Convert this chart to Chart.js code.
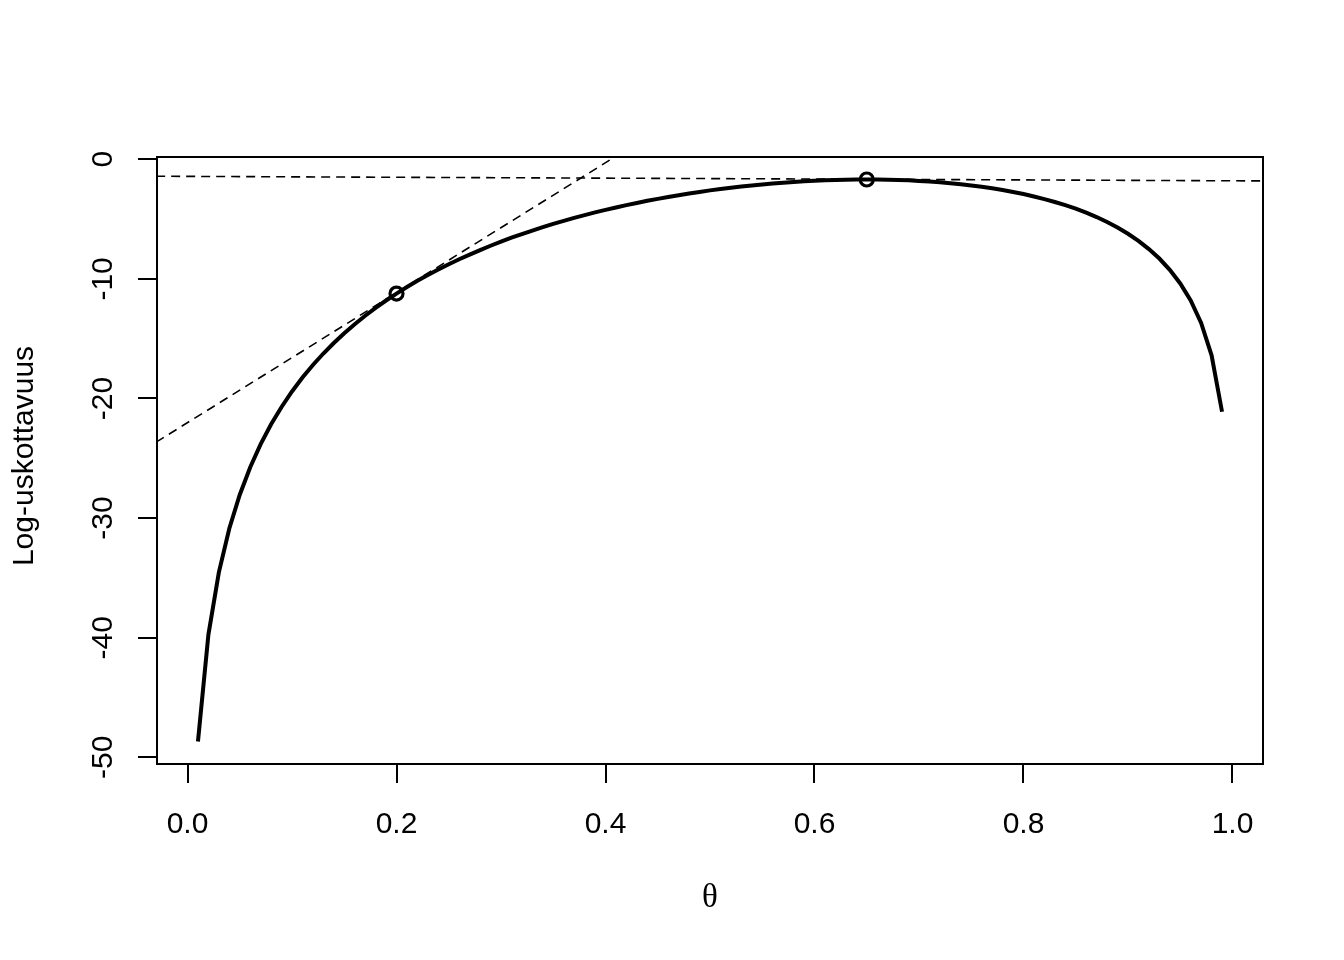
<!DOCTYPE html>
<html>
<head>
<meta charset="utf-8">
<script src="https://cdn.jsdelivr.net/npm/chart.js@4/dist/chart.umd.min.js"></script>
<style>
  html, body { margin: 0; padding: 0; background: #fff; }
  #wrap { width: 1344px; height: 960px; }
</style>
</head>
<body>
<div id="wrap"><canvas id="plot" width="1344" height="960"></canvas></div>
<script>
// theta grid and log-likelihood
const theta = [
  0.01, 0.02, 0.03, 0.04, 0.05, 0.06, 0.07, 0.08, 0.09, 0.10,
  0.11, 0.12, 0.13, 0.14, 0.15, 0.16, 0.17, 0.18, 0.19, 0.20,
  0.21, 0.22, 0.23, 0.24, 0.25, 0.26, 0.27, 0.28, 0.29, 0.30,
  0.31, 0.32, 0.33, 0.34, 0.35, 0.36, 0.37, 0.38, 0.39, 0.40,
  0.41, 0.42, 0.43, 0.44, 0.45, 0.46, 0.47, 0.48, 0.49, 0.50,
  0.51, 0.52, 0.53, 0.54, 0.55, 0.56, 0.57, 0.58, 0.59, 0.60,
  0.61, 0.62, 0.63, 0.64, 0.65, 0.66, 0.67, 0.68, 0.69, 0.70,
  0.71, 0.72, 0.73, 0.74, 0.75, 0.76, 0.77, 0.78, 0.79, 0.80,
  0.81, 0.82, 0.83, 0.84, 0.85, 0.86, 0.87, 0.88, 0.89, 0.90,
  0.91, 0.92, 0.93, 0.94, 0.95, 0.96, 0.97, 0.98, 0.99
];
const logLik = [
  -48.68, -39.74, -34.54, -30.87, -28.05, -25.75, -23.82, -22.16, -20.71, -19.41,
  -18.25, -17.20, -16.24, -15.36, -14.54, -13.79, -13.08, -12.42, -11.81, -11.23,
  -10.68, -10.16, -9.68, -9.22, -8.78, -8.36, -7.97, -7.59, -7.23, -6.89,
  -6.56, -6.25, -5.96, -5.67, -5.40, -5.15, -4.90, -4.67, -4.44, -4.23,
  -4.03, -3.83, -3.65, -3.47, -3.31, -3.15, -3.00, -2.86, -2.73, -2.60,
  -2.49, -2.38, -2.28, -2.19, -2.10, -2.03, -1.96, -1.90, -1.84, -1.80,
  -1.76, -1.73, -1.71, -1.70, -1.69, -1.70, -1.71, -1.73, -1.76, -1.81,
  -1.86, -1.92, -2.00, -2.09, -2.19, -2.30, -2.43, -2.57, -2.73, -2.91,
  -3.11, -3.33, -3.57, -3.84, -4.13, -4.47, -4.83, -5.25, -5.71, -6.23,
  -6.82, -7.51, -8.30, -9.24, -10.38, -11.80, -13.68, -16.39, -21.11
];

// marked points
const pointTheta = [0.2, 0.65];
const pointLogLik = [-11.23, -1.69];

// dashed lines (tangent at 0.2, level line near the maximum)
const tangentTheta = [-0.03, 0.42];
const tangentLogLik = [-23.65, 0.8];
const levelTheta = [-0.03, 1.03];
const levelLogLik = [-1.42, -1.81];

// axes
const xTicks = [0, 0.2, 0.4, 0.6, 0.8, 1.0];
const yTicks = [0, -10, -20, -30, -40, -50];
const xTitle = "θ";
const yTitle = "Log-uskottavuus";

const toXY = (xs, ys) => xs.map((x, i) => ({ x: x, y: ys[i] }));

/** ================================
 *  R-tyylinen laatikko, akselit ja tekstit
 =================================*/
const rAxes = {
    id: "rAxes",
    afterDraw(chart) {
        const { ctx, chartArea: a, scales: { x, y } } = chart;
        const tick = 19;
        ctx.save();
        ctx.strokeStyle = "#000";
        ctx.fillStyle = "#000";
        ctx.lineWidth = 2;

        // box
        ctx.strokeRect(a.left, a.top, a.right - a.left, a.bottom - a.top);

        // x axis
        ctx.beginPath();
        ctx.moveTo(x.getPixelForValue(xTicks[0]), a.bottom);
        ctx.lineTo(x.getPixelForValue(xTicks[xTicks.length - 1]), a.bottom);
        xTicks.forEach(v => {
            const px = Math.round(x.getPixelForValue(v));
            ctx.moveTo(px, a.bottom);
            ctx.lineTo(px, a.bottom + tick);
        });
        // y axis
        ctx.moveTo(a.left, y.getPixelForValue(yTicks[0]));
        ctx.lineTo(a.left, y.getPixelForValue(yTicks[yTicks.length - 1]));
        yTicks.forEach(v => {
            const py = Math.round(y.getPixelForValue(v));
            ctx.moveTo(a.left, py);
            ctx.lineTo(a.left - tick, py);
        });
        ctx.stroke();

        ctx.font = "30px 'Liberation Sans', Arial, sans-serif";
        ctx.textAlign = "center";
        ctx.textBaseline = "alphabetic";
        xTicks.forEach(v => {
            ctx.fillText(v.toFixed(1), x.getPixelForValue(v), 833);
        });
        yTicks.forEach(v => {
            ctx.save();
            ctx.translate(112, y.getPixelForValue(v));
            ctx.rotate(-Math.PI / 2);
            ctx.fillText(String(v), 0, 0);
            ctx.restore();
        });

        // titles
        ctx.save();
        ctx.translate(33, 456);
        ctx.rotate(-Math.PI / 2);
        ctx.fillText(yTitle, 0, 0);
        ctx.restore();

        ctx.font = "33px 'Liberation Serif', 'Times New Roman', serif";
        ctx.textBaseline = "middle";
        ctx.fillText(xTitle, (a.left + a.right) / 2, 898);
        ctx.restore();
    }
};

new Chart(document.getElementById("plot"), {
    type: "line",
    data: {
        datasets: [
            {
                data: toXY(tangentTheta, tangentLogLik),
                borderColor: "#000", borderWidth: 1.6, borderDash: [9, 6],
                pointRadius: 0, fill: false, order: 1
            },
            {
                data: toXY(levelTheta, levelLogLik),
                borderColor: "#000", borderWidth: 1.6, borderDash: [9, 6],
                pointRadius: 0, fill: false, order: 1
            },
            {
                data: toXY(pointTheta, pointLogLik),
                showLine: false,
                pointRadius: 6.5, pointBorderWidth: 3.2,
                pointBorderColor: "#000", pointBackgroundColor: "rgba(0,0,0,0)",
                order: 2
            },
            {
                data: toXY(theta, logLik),
                borderColor: "#000", borderWidth: 4,
                pointRadius: 0, tension: 0, fill: false, order: 3
            }
        ]
    },
    options: {
        responsive: false,
        animation: false,
        devicePixelRatio: 1,
        layout: { padding: { left: 157, right: 81, top: 157, bottom: 196 } },
        plugins: { legend: { display: false }, tooltip: { enabled: false } },
        scales: {
            x: { type: "linear", min: -0.0292, max: 1.0292, display: false },
            y: { type: "linear", min: -50.56, max: 0.19, display: false }
        }
    },
    plugins: [rAxes]
});
</script>
</body>
</html>
